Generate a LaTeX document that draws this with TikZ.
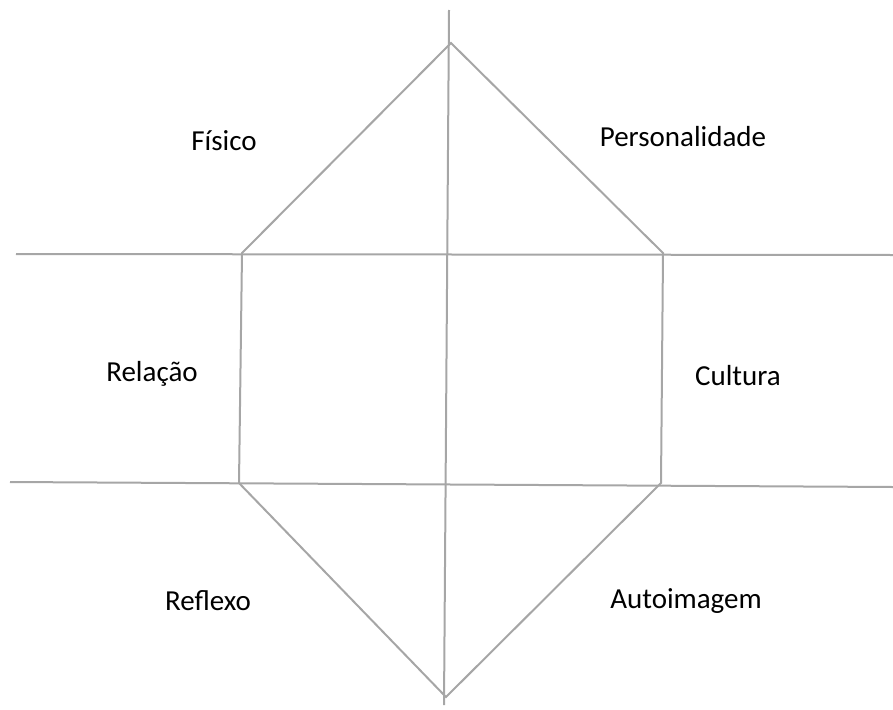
\documentclass[tikz,border=0pt]{standalone}
\usepackage{fontspec}
\setmainfont{Carlito}
\begin{document}
\begin{tikzpicture}[x=1pt,y=-1pt,
  ln/.style={draw=linegray,line width=2pt},
  lbl/.style={font=\fontsize{29}{34}\selectfont,inner sep=0pt}]
\definecolor{linegray}{HTML}{A6A6A6}
\useasboundingbox (0,0) rectangle (893,709);
% key points
\coordinate (vt) at (449,10);
\coordinate (vb) at (444,705);
\coordinate (top) at (451,43);
\coordinate (bot) at (446,697);
\coordinate (tl) at (242,253);
\coordinate (tr) at (663,253);
\coordinate (bl) at (239,483);
\coordinate (br) at (661,483);
\coordinate (hl1) at (16,254);
\coordinate (hr1) at (893,255);
\coordinate (hl2) at (10,482);
\coordinate (hr2) at (893,487);
% lines
\draw[ln] (vt) -- (vb);
\draw[ln] (hl1) -- (hr1);
\draw[ln] (hl2) -- (hr2);
\draw[ln] (tl) -- (top) -- (tr) -- (br) -- (bot) -- (bl) -- cycle;
% labels
\node[lbl] (fisico) at (224,141) {Físico};
\node[lbl] (pers) at (683,137) {Personalidade};
\node[lbl] (rel) at (152,374) {Relação};
\node[lbl] (cult) at (738,376) {Cultura};
\node[lbl] (refl) at (208,601) {Reflexo};
\node[lbl] (auto) at (686,601) {Autoimagem};
\end{tikzpicture}
\end{document}
